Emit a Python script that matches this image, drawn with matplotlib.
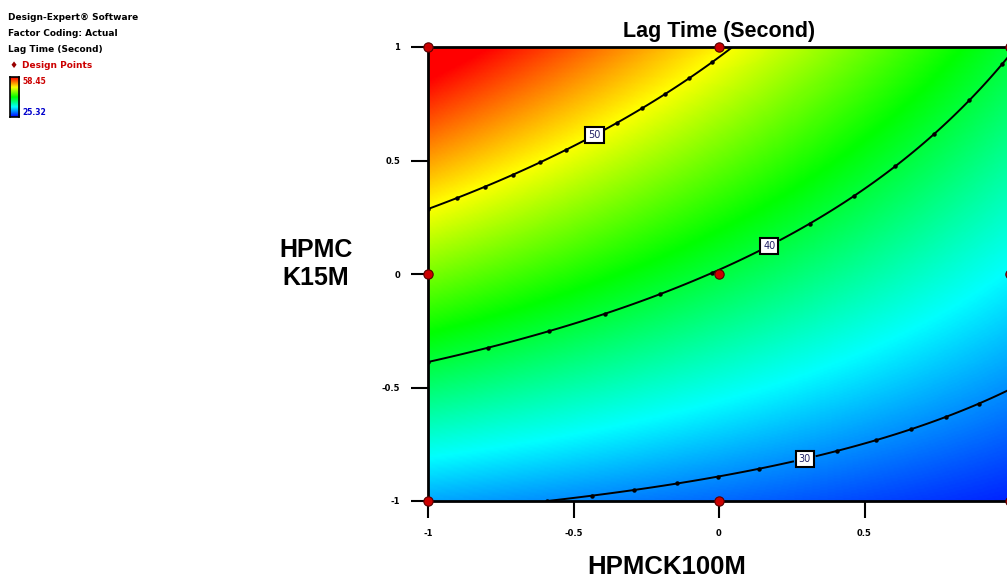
import numpy as np
import matplotlib
matplotlib.use("Agg")
import matplotlib.pyplot as plt
from matplotlib.colors import LinearSegmentedColormap, Normalize

# quadratic model (coded factors)
b0, bA, bB, bAB, bAA, bBB = 39.8, -6.12, 10.84, -3.98, -0.15, -0.17
levels = [30, 40, 50]
label_pos = [(0.285, -0.76), (0.158, 0.163), (-0.44, 0.64)]
design_x = [-1, 0, 1, -1, 0, 1, -1, 0, 1]
design_y = [1, 1, 1, 0, 0, 0, -1, -1, -1]
resp_max, resp_min = 58.45, 25.32
ticks = [-1, -0.5, 0, 0.5, 1]
tick_labels = ["-1", "-0.5", "0", "0.5", "1"]

cmap = LinearSegmentedColormap.from_list(
    "dx", ["#0000ff", "#00ffff", "#00ff00", "#ffff00", "#ff0000"])

fig = plt.figure(figsize=(10.07, 5.83), dpi=100)
ax = fig.add_axes([428 / 1007, 1 - 501 / 583, 582 / 1007, 454 / 583])

A, B = np.meshgrid(np.linspace(-1, 1, 300), np.linspace(-1, 1, 300))
Y = b0 + bA * A + bB * B + bAB * A * B + bAA * A ** 2 + bBB * B ** 2

norm = Normalize(resp_min, resp_max)
ax.imshow(Y, extent=(-1, 1, -1, 1), origin="lower", cmap=cmap, norm=norm,
          aspect="auto", interpolation="bilinear")
cs = ax.contour(A, B, Y, levels=levels, colors="black", linewidths=1.4)

# little dots along the contour lines
for path in cs.get_paths():
    v = path.vertices
    if len(v) == 0:
        continue
    step = max(1, len(v) // 12)
    ax.plot(v[::step, 0], v[::step, 1], "o", color="black", ms=2.2)

lbls = ax.clabel(cs, fmt="%d", fontsize=7, manual=label_pos, inline=True)
for t in lbls:
    t.set_rotation(0)
    t.set_bbox(dict(boxstyle="square,pad=0.3", fc="white", ec="black", lw=1.5))
    t.set_color("#222266")

ax.scatter(design_x, design_y, s=45, c="#cc0000", edgecolors="#550000",
           linewidths=0.8, zorder=5, clip_on=False)

ax.set_xlim(-1, 1)
ax.set_ylim(-1, 1)
ax.set_xticks(ticks, tick_labels)
ax.set_yticks(ticks, tick_labels)
ax.tick_params(direction="out", length=12, width=1.5, labelsize=6, pad=8)
for lab in ax.get_xticklabels() + ax.get_yticklabels():
    lab.set_fontweight("bold")
ax.get_xticklabels()[-1].set_visible(False)  # falls off the right edge
for sp in ax.spines.values():
    sp.set_linewidth(2)

fig.text(719 / 1007, 1 - 31 / 583, "Lag Time (Second)", ha="center", va="center",
         fontsize=15.5, fontweight="bold", family="Liberation Sans")
fig.text(316 / 1007, 1 - 264 / 583, "HPMC\nK15M", ha="center", va="center",
         fontsize=18, fontweight="bold", family="Liberation Sans", linespacing=1.25)
fig.text(667 / 1007, 1 - 567 / 583, "HPMCK100M", ha="center", va="center",
         fontsize=18.5, fontweight="bold", family="Liberation Sans")

# Design-Expert legend block
info = ["Design-Expert\u00ae Software", "Factor Coding: Actual", "Lag Time (Second)"]
for i, s in enumerate(info):
    fig.text(8 / 1007, 1 - (17 + 16 * i) / 583, s, fontsize=6.5, fontweight="bold",
             va="center")
fig.text(9 / 1007, 1 - 65 / 583, "\u2666", fontsize=6.5, color="#990000", va="center")
fig.text(22 / 1007, 1 - 65 / 583, "Design Points", fontsize=6.5, fontweight="bold",
         color="#cc0000", va="center")
cax = fig.add_axes([10 / 1007, 1 - 117 / 583, 9 / 1007, 40 / 583])
cax.imshow(np.linspace(0, 1, 100)[:, None], cmap=cmap, origin="lower", aspect="auto")
cax.set_xticks([])
cax.set_yticks([])
for sp in cax.spines.values():
    sp.set_linewidth(1.2)
fig.text(22 / 1007, 1 - 81 / 583, f"{resp_max:.2f}", fontsize=5.5, fontweight="bold",
         color="#cc0000", va="center")
fig.text(22 / 1007, 1 - 113 / 583, f"{resp_min:.2f}", fontsize=5.5, fontweight="bold",
         color="#0000cc", va="center")

fig.savefig("out.png", dpi=100)
